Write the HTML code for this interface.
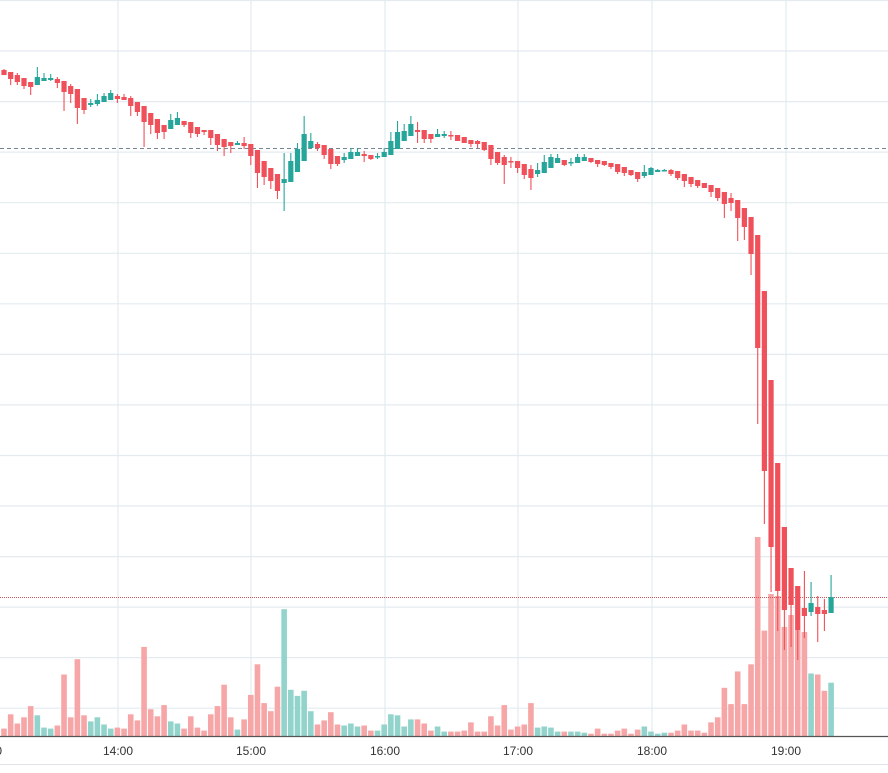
<!DOCTYPE html>
<html><head><meta charset="utf-8">
<style>html,body{margin:0;padding:0;background:#fff;width:888px;height:773px;overflow:hidden}svg{display:block}text{font-family:"Liberation Sans",sans-serif;font-size:12px;fill:#333}</style>
</head><body>
<svg id="c" width="888" height="773" xmlns="http://www.w3.org/2000/svg"></svg>
<script>
var s='';
var ns=document.getElementById('c');
var gx=[118,251,385,518,652,786];
for(var y=0.5;y<730;y+=50.55){s+='<line x1="0" x2="888" y1="'+y.toFixed(1)+'" y2="'+y.toFixed(1)+'" stroke="#e3ebf1" stroke-width="1.2"/>';}
gx.forEach(function(x){s+='<line x1="'+x+'" x2="'+x+'" y1="0" y2="736" stroke="#e3ebf1" stroke-width="1.2"/>';});
var vz=[378,336,363,345,312,339,375,378,369,219,345,174,339,357,345,366,378,375,378,336,354,138,321,342,309,357,363,378,342,375,384,336,312,249,345,381,351,279,189,303,327,255,27,264,282,267,327,366,354,330,366,369,363,372,369,384,384,366,336,339,372,351,351,363,384,372,387,387,387,384,360,387,387,342,369,309,381,372,366,303,375,372,375,387,387,387,387,390,393,378,393,393,384,378,393,381,372,387,393,390,390,384,366,384,384,390,360,345,258,306,210,306,189,0,90,0,0,0,0,0,0,216,219,267,243];
var vt=vz.map(function(z){return 600+z/2.94;});
var ov={113:537,115:594,116:596,117:627,118:615,119:630,120:632};
for(var k in ov)vt[k]=ov[k];
var vc=[];var rng=[[1,5,'r'],[6,8,'g'],[9,13,'r'],[14,17,'g'],[18,25,'r'],[26,27,'g'],[28,35,'r'],[36,36,'g'],[37,42,'r'],[43,47,'g'],[48,51,'r'],[52,54,'g'],[55,56,'r'],[57,62,'g'],[63,65,'r'],[66,67,'g'],[68,80,'r'],[81,84,'g'],[85,85,'r'],[86,88,'g'],[89,96,'r'],[97,100,'g'],[101,121,'r'],[122,122,'g'],[123,124,'r'],[125,125,'g']];
rng.forEach(function(r){for(var i=r[0];i<=r[1];i++)vc[i-1]=r[2];});
function X(i){return 4+i*6.67;}
for(var i=0;i<vt.length;i++){var x=X(i);s+='<rect x="'+(x-2.8).toFixed(2)+'" y="'+vt[i].toFixed(1)+'" width="5.6" height="'+(736-vt[i]).toFixed(1)+'" fill="'+(vc[i]=='g'?'#92d3cc':'#f7a6a7')+'"/>';}
s+='<line x1="0" x2="888" y1="148.5" y2="148.5" stroke="#758696" stroke-width="1" stroke-dasharray="4,3"/>';
s+='<line x1="0" x2="888" y1="597.5" y2="597.5" stroke="#c9555a" stroke-width="1" stroke-dasharray="1,1"/>';
var C=[['r',70,75,69,75],['r',72,79,72,85],['r',75,82,73,85],['r',78,86,78,89],['r',82,87,82,95],['g',77,85,67,85],['g',78,81,73,81],['g',78,80,74,81],['r',79,83,77,88],['r',81,92,81,111],['r',86,94,84,103],['r',89,108,89,124],['r',98,110,98,114],['g',103,105,99,107],['g',100,104,94,106],['g',96,102,93,102],['g',93,100,90,100],['r',96,99,94,103],['r',97,100,94,100],['r',98,106,96,116],['r',102,112,102,116],['r',106,122,106,147],['r',113,125,113,134],['r',119,133,119,139],['r',125,132,125,139],['g',120,129,114,129],['g',118,125,112,125],['r',121,125,121,127],['r',122,133,122,138],['r',127,134,127,137],['r',130,132,130,135],['r',130,138,130,145],['r',134,145,134,151],['r',139,147,139,156],['r',142,146,142,153],['g',143,145,141,145],['r',143,146,137,149],['r',144,156,144,165],['r',150,173,150,188],['r',161,177,161,185],['r',168,181,168,189],['r',174,191,174,199],['g',179,183,153,211],['g',161,182,153,182],['g',149,172,143,172],['g',134,161,116,161],['g',141,148,133,148],['r',144,148,142,151],['r',145,155,145,159],['r',149,164,149,169],['r',156,164,156,166],['g',157,160,153,163],['g',152,159,148,159],['g',152,156,148,156],['r',154,156,151,162],['r',155,159,155,160],['g',156,157,153,159],['g',152,157,148,157],['g',141,155,132,155],['g',132,149,121,149],['g',131,141,124,141],['g',124,136,116,136],['r',130,132,122,143],['r',130,139,130,143],['r',134,139,134,143],['g',134,137,129,137],['g',134,136,131,138],['r',135,136,131,140],
['r',135,141,135,141],['r',137,143,137,143],['r',140,144,140,147],['r',141,144,140,148],['r',142,150,142,151],['r',145,159,145,165],['r',152,163,152,165],['r',157,165,155,184],['r',161,162,157,168],['r',161,168,161,173],['r',164,175,164,179],['r',169,178,165,190],['g',170,174,163,177],['g',162,173,155,173],['g',157,168,154,168],['g',158,163,154,163],['r',160,165,160,166],['g',162,163,158,166],['g',157,163,154,163],['g',157,161,154,161],['r',158,162,158,163],['r',160,164,160,167],['r',161,165,161,166],['r',163,167,163,169],['r',164,172,164,174],['r',167,173,167,176],['r',170,175,170,176],['r',172,179,172,182],['g',172,176,165,178],['g',168,175,167,175],['g',170,172,169,172],['g',170,171,169,171],['r',170,174,169,176],['r',171,178,171,180],['r',174,181,174,187],['r',177,184,177,187],['r',180,186,180,188],['r',183,188,183,188],['r',185,192,185,197],['r',188,198,188,201],['r',192,204,192,218],['r',198,203,193,211],['r',200,218,200,241],['r',208,227,208,240],['r',217,254,217,275],['r',235,348,235,424],['r',291,471,291,524],['r',380,547,380,592],['r',463,591,463,631],['r',527,610,527,650],['r',568,605,568,647],['r',586,630,586,660],['r',608,616,571,638],['g',603,612,582,616],['r',607,614,596,642],['r',610,614,599,631],['g',597,613,575,613]];
C.forEach(function(c,i){var x=X(i);var col=c[0]=='g'?'#26a69a':'#ef5059';var h=Math.max(c[2]-c[1],1.5);
s+='<line x1="'+x.toFixed(2)+'" x2="'+x.toFixed(2)+'" y1="'+c[3]+'" y2="'+c[4]+'" stroke="'+col+'" stroke-width="1.1"/>';
s+='<rect x="'+(x-2.6).toFixed(2)+'" y="'+c[1]+'" width="5.2" height="'+h+'" fill="'+col+'"/>';});
s+='<rect x="0" y="736" width="888" height="37" fill="#fff"/>';
s+='<line x1="0" x2="888" y1="736.5" y2="736.5" stroke="#555" stroke-width="1.2"/>';
s+='<line x1="0" x2="888" y1="764.5" y2="764.5" stroke="#e0e3eb" stroke-width="1"/>';
var labs=[[-13,'13:00'],[118,'14:00'],[251,'15:00'],[385,'16:00'],[518,'17:00'],[652,'18:00'],[786,'19:00']];
labs.forEach(function(l){s+='<text x="'+l[0]+'" y="755" text-anchor="middle">'+l[1]+'</text>';});
ns.innerHTML=s;
</script>
</body></html>
